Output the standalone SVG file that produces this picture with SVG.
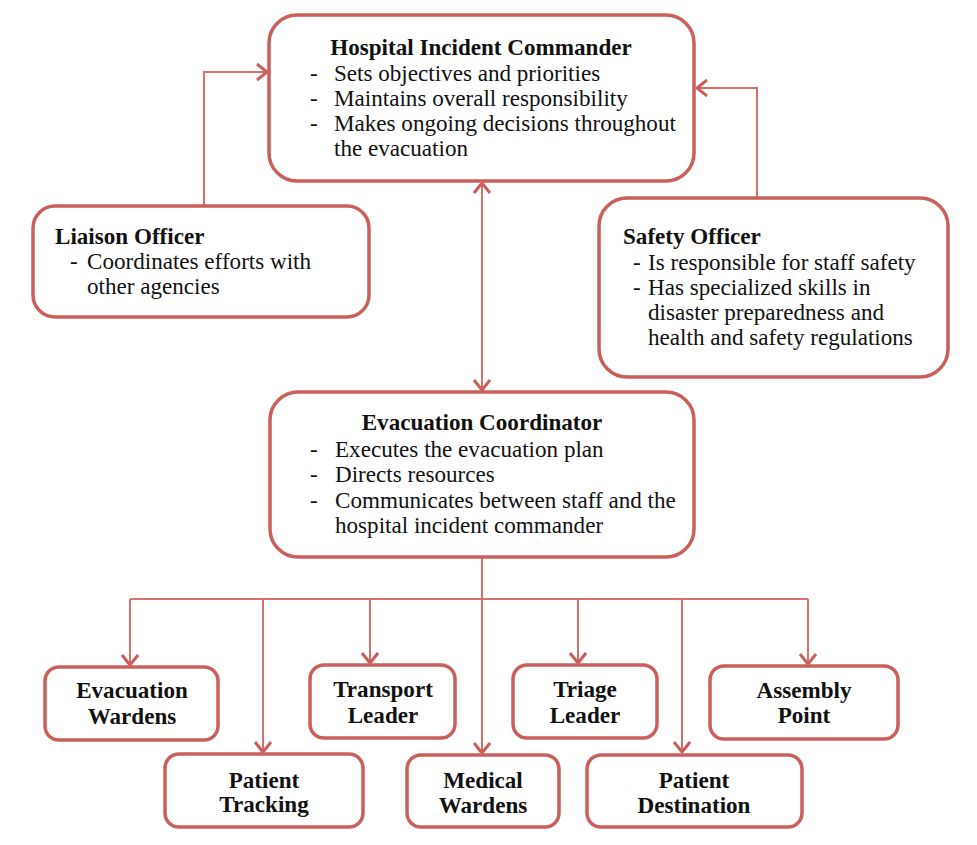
<svg xmlns="http://www.w3.org/2000/svg" width="977" height="845" viewBox="0 0 977 845">
<defs>
<marker id="arr" markerUnits="userSpaceOnUse" markerWidth="20" markerHeight="20" refX="12" refY="9" orient="auto-start-reverse" viewBox="0 0 20 20">
<path d="M2,1 L12,9 L2,17" fill="none" stroke="#c9605c" stroke-width="3"/>
</marker>
</defs>
<style>
.box{fill:#fff;stroke:#c9605c;stroke-width:3.5}
.ln{fill:none;stroke:#d4716d;stroke-width:2}
text{font-family:"Liberation Serif","Times New Roman",serif;font-size:23.1px;fill:#111}
.b{font-weight:bold}
.c{text-anchor:middle}
</style>
<rect width="977" height="845" fill="#fff"/>
<g id="connectors">
<path class="ln" d="M204,206 V72 H267" marker-end="url(#arr)"/>
<path class="ln" d="M757,198 V88 H697" marker-end="url(#arr)"/>
<path class="ln" d="M482,183 V390" marker-start="url(#arr)" marker-end="url(#arr)"/>
<path class="ln" d="M482,558 V753" marker-end="url(#arr)"/>
<path class="ln" d="M130,599 H808"/>
<path class="ln" d="M130,599 V665" marker-end="url(#arr)"/>
<path class="ln" d="M263,599 V752" marker-end="url(#arr)"/>
<path class="ln" d="M370,599 V663" marker-end="url(#arr)"/>
<path class="ln" d="M578,599 V663" marker-end="url(#arr)"/>
<path class="ln" d="M682,599 V752" marker-end="url(#arr)"/>
<path class="ln" d="M808,599 V664" marker-end="url(#arr)"/>
</g>
<g id="hic">
<rect class="box" x="269" y="15" width="425" height="166" rx="28"/>
<text class="b c" x="481" y="55">Hospital Incident Commander</text>
<text x="310" y="81">-</text><text x="334" y="81">Sets objectives and priorities</text>
<text x="310" y="106">-</text><text x="334" y="106">Maintains overall responsibility</text>
<text x="310" y="131">-</text><text x="334" y="131">Makes ongoing decisions throughout</text>
<text x="334" y="156">the evacuation</text>
</g>
<g id="liaison">
<rect class="box" x="33" y="206" width="336" height="111" rx="22"/>
<text class="b" x="55" y="244">Liaison Officer</text>
<text x="70" y="269">-</text><text x="87" y="269">Coordinates efforts with</text>
<text x="87" y="294">other agencies</text>
</g>
<g id="safety">
<rect class="box" x="599" y="198" width="349" height="179" rx="28"/>
<text class="b" x="623" y="244">Safety Officer</text>
<text x="633" y="270">-</text><text x="648" y="270">Is responsible for staff safety</text>
<text x="633" y="295">-</text><text x="648" y="295">Has specialized skills in</text>
<text x="648" y="320">disaster preparedness and</text>
<text x="648" y="345">health and safety regulations</text>
</g>
<g id="evac-coordinator">
<rect class="box" x="270" y="392" width="424" height="165" rx="28"/>
<text class="b c" x="482" y="430">Evacuation Coordinator</text>
<text x="310" y="457">-</text><text x="335" y="457">Executes the evacuation plan</text>
<text x="310" y="482">-</text><text x="335" y="482">Directs resources</text>
<text x="310" y="508">-</text><text x="335" y="508">Communicates between staff and the</text>
<text x="335" y="533">hospital incident commander</text>
</g>
<g id="evacuation-wardens">
<rect class="box" x="45" y="667" width="173" height="73" rx="14"/>
<text class="b c" x="132" y="698">Evacuation</text>
<text class="b c" x="132" y="724">Wardens</text>
</g>
<g id="transport-leader">
<rect class="box" x="310" y="665" width="145" height="73" rx="14"/>
<text class="b c" x="383" y="697">Transport</text>
<text class="b c" x="383" y="723">Leader</text>
</g>
<g id="triage-leader">
<rect class="box" x="513" y="665" width="144" height="73" rx="14"/>
<text class="b c" x="585" y="697">Triage</text>
<text class="b c" x="585" y="723">Leader</text>
</g>
<g id="assembly-point">
<rect class="box" x="710" y="666" width="188" height="73" rx="14"/>
<text class="b c" x="804" y="698">Assembly</text>
<text class="b c" x="804" y="723">Point</text>
</g>
<g id="patient-tracking">
<rect class="box" x="165" y="754" width="198" height="73" rx="14"/>
<text class="b c" x="264" y="788">Patient</text>
<text class="b c" x="264" y="812">Tracking</text>
</g>
<g id="medical-wardens">
<rect class="box" x="407" y="755" width="152" height="72" rx="14"/>
<text class="b c" x="483" y="788">Medical</text>
<text class="b c" x="483" y="813">Wardens</text>
</g>
<g id="patient-destination">
<rect class="box" x="587" y="755" width="215" height="72" rx="14"/>
<text class="b c" x="694" y="788">Patient</text>
<text class="b c" x="694" y="813">Destination</text>
</g>
</svg>
